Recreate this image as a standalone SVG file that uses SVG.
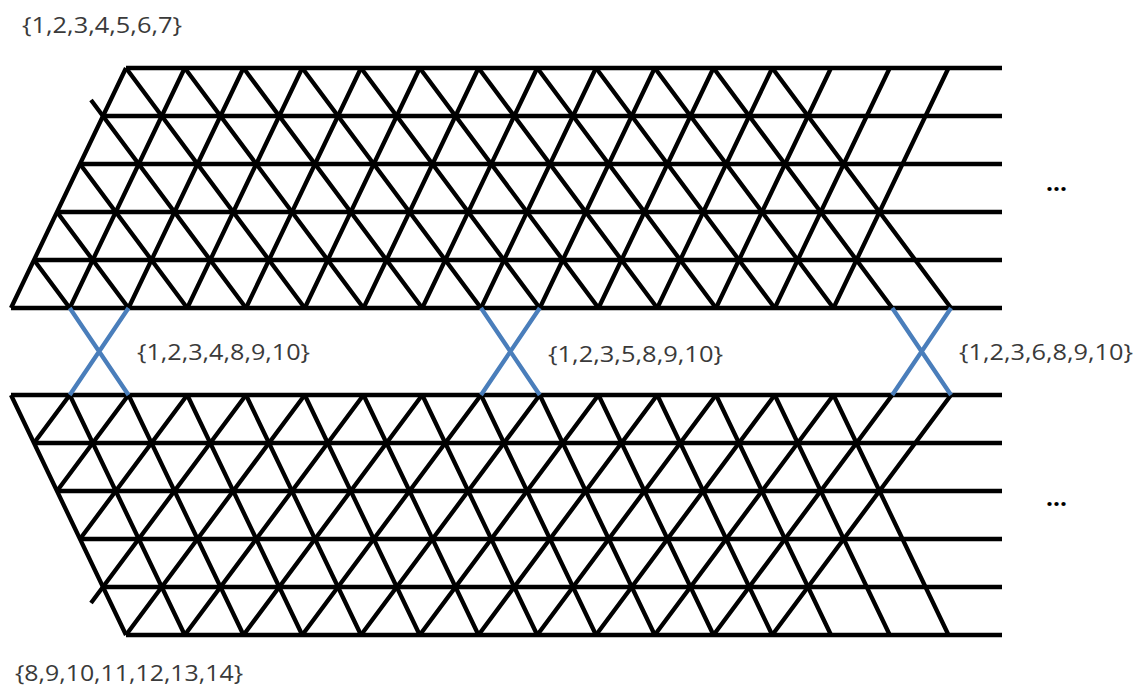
<svg xmlns="http://www.w3.org/2000/svg" xmlns:xlink="http://www.w3.org/1999/xlink" width="1141" height="694" viewBox="0 0 1141 694">
<style>
.lat{fill:none;stroke:#000;stroke-width:4.3;stroke-linecap:butt;stroke-linejoin:miter}
.x{fill:none;stroke:#4a7ebb;stroke-width:4.3}
.lbl{font-family:"Open Sans","Liberation Sans",sans-serif;font-size:22px;fill:#3a3a3a}
.dots{font-family:"Open Sans","Liberation Sans",sans-serif;font-size:24px;font-weight:bold;fill:#000}
</style>
<defs>
<g id="lattice">
<path class="lat" d="M126 68H1002M103 116H1002M80 164H1002M57 212H1002M34 260H1002M11 308H1002"/>
<path class="lat" d="M126 68L11 308M184.75 68L69.75 308M243.5 68L128.5 308M302.25 68L187.25 308M361 68L246 308M419.75 68L304.75 308M478.5 68L363.5 308M537.25 68L422.25 308M596 68L481 308M654.75 68L539.75 308M713.5 68L598.5 308M772.25 68L657.25 308M831 68L716 308M889.75 68L774.75 308M948.5 68L833.5 308"/>
<path class="lat" d="M126 68L304.75 308M184.75 68L363.5 308M243.5 68L422.25 308M302.25 68L481 308M361 68L539.75 308M419.75 68L598.5 308M478.5 68L657.25 308M537.25 68L716 308M596 68L774.75 308M654.75 68L833.5 308M713.5 68L892.25 308M772.25 68L951 308"/>
<path class="lat" d="M91 100L246 308M80 164L187.25 308M57 212L128.5 308M34 260L69.75 308"/>
</g>
</defs>
<g id="top-lattice"><use xlink:href="#lattice" href="#lattice"/></g>
<g id="bottom-lattice"><use xlink:href="#lattice" href="#lattice" transform="translate(0,703) scale(1,-1)"/></g>
<g id="connectors">
<path class="x" d="M69.75 308L128.5 395M128.5 308L69.75 395"/>
<path class="x" d="M481 308L539.75 395M539.75 308L481 395"/>
<path class="x" d="M892.25 308L951 395M951 308L892.25 395"/>
</g>
<g id="labels">
<text class="lbl" x="22" y="33" textLength="160" lengthAdjust="spacingAndGlyphs">{1,2,3,4,5,6,7}</text>
<text class="lbl" x="137" y="360" textLength="173" lengthAdjust="spacingAndGlyphs">{1,2,3,4,8,9,10}</text>
<text class="lbl" x="548" y="362" textLength="175" lengthAdjust="spacingAndGlyphs">{1,2,3,5,8,9,10}</text>
<text class="lbl" x="959" y="360" textLength="174" lengthAdjust="spacingAndGlyphs">{1,2,3,6,8,9,10}</text>
<text class="lbl" x="15" y="681" textLength="228" lengthAdjust="spacingAndGlyphs">{8,9,10,11,12,13,14}</text>
<text class="dots" x="1046" y="191" textLength="21" lengthAdjust="spacingAndGlyphs">...</text>
<text class="dots" x="1046" y="506" textLength="21" lengthAdjust="spacingAndGlyphs">...</text>
</g>
</svg>
